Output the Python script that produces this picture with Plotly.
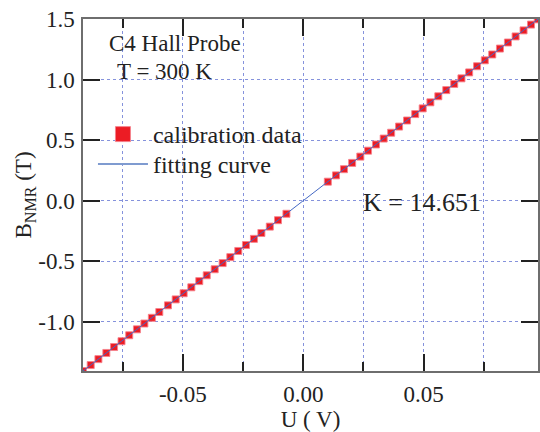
import plotly.graph_objects as go

# Calibration data (U in volts, B_NMR in tesla)
u_data = [-0.0915, -0.0883, -0.0851, -0.0818, -0.0786, -0.0755, -0.0723, -0.0691,
          -0.0660, -0.0629, -0.0598, -0.0562, -0.0530, -0.0497, -0.0465, -0.0432,
          -0.0401, -0.0368, -0.0335, -0.0303, -0.0270, -0.0238, -0.0205, -0.0174,
          -0.0139, -0.0105, -0.0070,
          0.0102, 0.0136, 0.0169, 0.0203, 0.0237, 0.0269, 0.0302, 0.0334,
          0.0365, 0.0398, 0.0431, 0.0465, 0.0496, 0.0528, 0.0561, 0.0594,
          0.0627, 0.0657, 0.0689, 0.0722, 0.0754, 0.0785, 0.0817, 0.0850,
          0.0882, 0.0915, 0.0946, 0.0974]
b_data = [-1.406, -1.357, -1.308, -1.257, -1.208, -1.160, -1.111, -1.062,
          -1.014, -0.967, -0.919, -0.864, -0.815, -0.764, -0.715, -0.664,
          -0.616, -0.566, -0.515, -0.466, -0.415, -0.366, -0.315, -0.267,
          -0.214, -0.161, -0.108,
          0.157, 0.209, 0.260, 0.312, 0.364, 0.413, 0.464, 0.513,
          0.561, 0.612, 0.662, 0.715, 0.762, 0.812, 0.862, 0.913,
          0.964, 1.010, 1.059, 1.110, 1.159, 1.207, 1.256, 1.306,
          1.356, 1.406, 1.454, 1.497]

# Fitting curve endpoints
fit_u = [-0.0915, 0.0975]
fit_b = [-1.406, 1.499]

x_major_vals = [-0.05, 0.0, 0.05]
x_major_text = ["-0.05", "0.00", "0.05"]
y_vals = [-1.0, -0.5, 0.0, 0.5, 1.0, 1.5]
y_text = ["-1.0", "-0.5", "0.0", "0.5", "1.0", "1.5"]

FONT = "Liberation Serif, Times New Roman, serif"
TXT = "#222222"
RED = "#ec1c24"
BLUE = "#4468c4"
GRID = "#8592dc"

fig = go.Figure()
fig.add_trace(go.Scatter(
    x=u_data, y=b_data, mode="markers", showlegend=False,
    marker=dict(symbol="square", size=7, color=RED,
                line=dict(width=1, color="rgba(245,130,140,0.9)")),
))
fig.add_trace(go.Scatter(
    x=fit_u, y=fit_b, mode="lines", showlegend=False,
    line=dict(color=BLUE, width=1),
))
# legend-only entries
fig.add_trace(go.Scatter(
    x=[None], y=[None], mode="markers", name="calibration data", legend="legend",
    marker=dict(symbol="square", size=15, color=RED,
                line=dict(width=1, color="rgba(245,130,140,0.9)")),
))
fig.add_trace(go.Scatter(
    x=[None], y=[None], mode="lines", name="fitting curve", legend="legend2",
    line=dict(color="#7f9bd0", width=2),
))

axis_common = dict(
    showline=True, linecolor="#6e6e6e", linewidth=1.5,
    ticks="inside", tickcolor="#222222", tickwidth=1.5, ticklen=17,
    mirror="ticks", zeroline=False,
    showgrid=True, gridcolor=GRID, gridwidth=1, griddash="dot",
    tickfont=dict(family=FONT, size=23, color=TXT),
)

fig.update_xaxes(
    range=[-0.0915, 0.0975], tickmode="array",
    tickvals=x_major_vals, ticktext=x_major_text,
    minor=dict(dtick=0.025, tick0=0, ticks="inside", ticklen=9,
               tickcolor="#222222", tickwidth=1.5,
               showgrid=True, gridcolor=GRID, gridwidth=1, griddash="dot"),
    title=dict(text="U ( V)", font=dict(family=FONT, size=23, color=TXT), standoff=6),
    ticklabelstandoff=2,
    **axis_common,
)
fig.update_yaxes(
    range=[-1.406, 1.5], tickmode="array",
    tickvals=y_vals, ticktext=y_text,
    title=dict(text="B<sub>NMR</sub> (T)", font=dict(family=FONT, size=23, color=TXT), standoff=0),
    ticklabelstandoff=2,
    **axis_common,
)

fig.add_annotation(text="C4 Hall Probe", xref="paper", yref="paper",
                   x=0.0525, y=0.929, xanchor="left", yanchor="middle", showarrow=False,
                   font=dict(family=FONT, size=23, color=TXT))
fig.add_annotation(text="T = 300 K", xref="paper", yref="paper",
                   x=0.070, y=0.852, xanchor="left", yanchor="middle", showarrow=False,
                   font=dict(family=FONT, size=23, color=TXT))
fig.add_annotation(text="K = 14.651", xref="paper", yref="paper",
                   x=0.612, y=0.4787, xanchor="left", yanchor="middle", showarrow=False,
                   font=dict(family=FONT, size=26, color=TXT))

legend_style = dict(xanchor="left", yanchor="top", bgcolor="rgba(0,0,0,0)", borderwidth=0,
                    itemwidth=50, font=dict(family=FONT, size=24, color=TXT))
fig.update_layout(
    width=540, height=432,
    margin=dict(l=83, r=0, t=19, b=61),
    plot_bgcolor="white", paper_bgcolor="white",
    font=dict(family=FONT, size=23, color=TXT),
    legend=dict(x=0.0219, y=0.7358, **legend_style),
    legend2=dict(x=0.0219, y=0.6506, **legend_style),
)

fig.write_html("out.html")
